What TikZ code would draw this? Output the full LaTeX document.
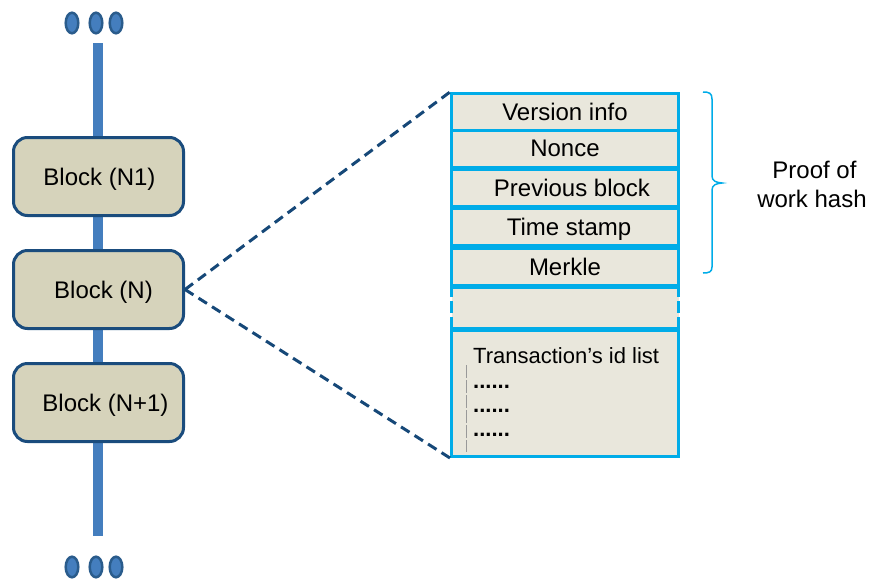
\documentclass[tikz,border=0pt]{standalone}
\usepackage{fontspec}
\setmainfont{Liberation Sans}
\usetikzlibrary{calc}

\definecolor{chainblue}{RGB}{68,126,190}
\definecolor{ovaledge}{RGB}{42,92,140}
\definecolor{blockedge}{RGB}{26,76,125}
\definecolor{blockfill}{RGB}{214,211,187}
\definecolor{fieldcyan}{RGB}{0,172,232}
\definecolor{fieldfill}{RGB}{233,231,220}
\definecolor{linkblue}{RGB}{22,72,120}

\tikzset{
  x=1pt, y=-1pt,
  blockbox/.style={draw=blockedge, line width=3pt, fill=blockfill,
    rounded corners=14pt, minimum width=170pt, minimum height=78pt,
    inner sep=0pt, text height=17pt, text depth=0pt,
    font=\fontsize{24}{29}\selectfont},
  field/.style={draw=fieldcyan, line width=3pt, fill=fieldfill,
    minimum width=227pt, inner sep=0pt, text height=16.5pt, text depth=0pt,
    font=\fontsize{24}{29}\selectfont},
  gapfield/.style={fill=fieldfill, minimum width=227pt, inner sep=0pt},
  chain/.style={fill=chainblue},
  link/.style={draw=linkblue, line width=3pt, dash pattern=on 10pt off 6pt},
  brace/.style={draw=fieldcyan, line width=1.5pt},
  listtext/.style={font=\fontsize{22}{26}\selectfont, anchor=base west, inner sep=0pt},
  listdots/.style={font=\fontsize{22}{26}\selectfont\bfseries, anchor=base west, inner sep=0pt},
}

\begin{document}
\begin{tikzpicture}
\useasboundingbox (0,0) rectangle (870,579);

% chain bars
\fill[chain] (93,43) rectangle (103,138);
\fill[chain] (93,215) rectangle (103,251);
\fill[chain] (93,328) rectangle (103,363);
\fill[chain] (93,441) rectangle (103,536);

% continuation marks above and below the chain
\foreach \cx in {72,96,116} {
  \draw[ovaledge, line width=2.5pt, fill=chainblue] (\cx,23) ellipse (6.3pt and 10.3pt);
  \draw[ovaledge, line width=2.5pt, fill=chainblue] (\cx,567) ellipse (6.3pt and 10.3pt);
}

% blocks
\node[blockbox] (bprev) at (98.5,176.5) {\hspace*{2pt}Block (N1)};
\node[blockbox] (bcur)  at (98.5,289.5) {\hspace*{10pt}Block (N)};
\node[blockbox] (bnext) at (98.5,402.5) {\hspace*{14pt}Block (N+1)};

% header fields
\node[field, minimum height=36.5pt] (fver)  at (565,111.75) {Version info};
\node[field, minimum height=37pt]   (fnon)  at (565,148.5)  {Nonce};
\node[field, minimum height=37pt]   (fprev) at (565,188)    {\hspace*{14pt}Previous block};
\node[field, minimum height=37pt]   (ftime) at (565,227)    {\hspace*{8pt}Time stamp};
\node[field, minimum height=37pt]   (fmerk) at (565,267)    {Merkle};
\node[gapfield, minimum height=44.5pt] (fgap) at (565,307.75) {};
\node[field, minimum height=126.5pt] (ftx) at (565,393.25) {};

% dashed sides of the empty field
\draw[fieldcyan, line width=3pt, dash pattern=on 12pt off 4pt]
  (fgap.north west) -- (fgap.south west);
\draw[fieldcyan, line width=3pt, dash pattern=on 12pt off 4pt]
  (fgap.north east) -- (fgap.south east);
\draw[fieldcyan, line width=3pt] (fmerk.south west) -- (fmerk.south east);
\draw[fieldcyan, line width=3pt] (ftx.north west) -- (ftx.north east);

% light breaks along the outer top and bottom edges
\draw[white, line width=1.2pt, dash pattern=on 2.5pt off 9pt, dash phase=-6pt]
  ($(fver.north west)+(3,-0.8)$) -- ($(fver.north east)+(-3,-0.8)$);
\draw[white, line width=1.2pt, dash pattern=on 2.5pt off 9pt, dash phase=-6pt]
  ($(ftx.south west)+(3,0.8)$) -- ($(ftx.south east)+(-3,0.8)$);

% transaction list
\node[listtext] (txhead) at (473,363) {Transaction’s id list};
\node[listdots] (tx1) at (473,388) {......};
\node[listdots] (tx2) at (473,412) {......};
\node[listdots] (tx3) at (473,436) {......};
\draw[gray!80, line width=0.7pt, dash pattern=on 13pt off 2pt] (466,365) -- (466,452);

% zoom lines from the block to its header
\draw[link] (bcur.east) -- (fver.north west);
\draw[link] (bcur.east) -- (ftx.south west);

% brace and its label
\coordinate (btop) at (703,92);
\coordinate (bbot) at (703,273);
\draw[brace] (btop) .. controls (709,92) and (712,93) .. (712,99)
  -- (712,176) .. controls (712,181) and (716,182.5) .. (722,183)
  .. controls (716,183.5) and (712,185) .. (712,190)
  -- (712,267) .. controls (712,272) and (709,273) .. (bbot);
\node[font=\fontsize{24}{29}\selectfont, align=center] (pow) at (812,184)
  {\hspace*{5pt}Proof of\\work hash};
\end{tikzpicture}
\end{document}
